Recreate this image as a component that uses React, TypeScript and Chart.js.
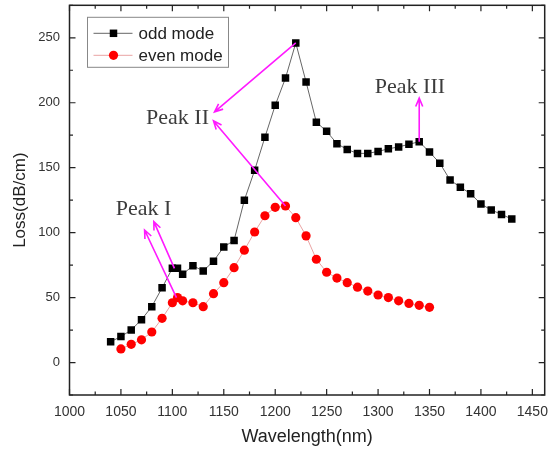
import React, { useEffect, useRef } from "react";
import { Chart, registerables } from "chart.js";
Chart.register(...registerables);

// ---- data ----
const oddX = [1040, 1050, 1060, 1070, 1080, 1090, 1100, 1105, 1110, 1120, 1130, 1140, 1150, 1160, 1170, 1180, 1190, 1200, 1210, 1220, 1230, 1240, 1250, 1260, 1270, 1280, 1290, 1300, 1310, 1320, 1330, 1340, 1350, 1360, 1370, 1380, 1390, 1400, 1410, 1420, 1430];
const oddY = [16, 20, 25, 33, 43, 57.5, 72.5, 72.5, 68, 74.5, 70.5, 78, 89, 94, 125, 148, 173.5, 198, 219, 246, 216, 185, 178, 168.5, 164, 161, 161, 162.5, 164.5, 166, 168, 170, 162, 153.5, 140.5, 135, 130, 122, 117.5, 114, 110.5];
const evenX = [1050, 1060, 1070, 1080, 1090, 1100, 1105, 1110, 1120, 1130, 1140, 1150, 1160, 1170, 1180, 1190, 1200, 1210, 1220, 1230, 1240, 1250, 1260, 1270, 1280, 1290, 1300, 1310, 1320, 1330, 1340, 1350];
const evenY = [10.5, 14, 17.5, 23.5, 34, 46, 50, 47.5, 46, 43, 53, 61.5, 73, 86.5, 100.5, 113, 119.5, 120.5, 111.5, 97.5, 79.5, 69.5, 65, 61.5, 58, 55, 52, 50, 47.5, 45.5, 44, 42.5];
const seriesNames = ["odd mode", "even mode"];
const xTicks = [1000, 1050, 1100, 1150, 1200, 1250, 1300, 1350, 1400, 1450];
const yTicks = [0, 50, 100, 150, 200, 250];
const xRange = [1000, 1462];
const yRange = [-25, 275];

// annotations (data coordinates)
const peakLabels = ["Peak I", "Peak II", "Peak III"];
const peakLabelX = [1072, 1105, 1331];
const peakLabelY = [118, 188, 212];
const arrowTailX = [1104, 1102, 1220, 1210, 1340];
const arrowTailY = [50, 72.5, 246, 120.5, 170];
const arrowTipX = [1073, 1082, 1141, 1140, 1340];
const arrowTipY = [102, 108.5, 193, 186, 203.5];

const SANS = "'Liberation Sans', Arial, sans-serif";
const SERIF = "'Liberation Serif', 'Times New Roman', serif";

const noPad = (s: any) => {
  s.paddingLeft = 0;
  s.paddingRight = 0;
  s.paddingTop = 0;
  s.paddingBottom = 0;
};

export default function App() {
  const ref = useRef<HTMLCanvasElement>(null);
  useEffect(() => {
    document.body.style.margin = "0";
    const framePlugin = {
      id: "framePlugin",
      afterDraw(chart: any) {
        const ctx = chart.ctx;
        const { left, right, top, bottom } = chart.chartArea;
        const xs = chart.scales.x;
        const ys = chart.scales.y;
        ctx.save();
        // frame
        ctx.strokeStyle = "#222";
        ctx.lineWidth = 1.5;
        ctx.strokeRect(left, top, right - left, bottom - top);
        ctx.lineWidth = 1.2;
        const tick = (v: number, len: number, isX: boolean) => {
          if (isX) {
            const p = xs.getPixelForValue(v);
            if (p < left - 0.5 || p > right + 0.5) return;
            ctx.beginPath();
            ctx.moveTo(p, bottom); ctx.lineTo(p, bottom - len);
            ctx.moveTo(p, top); ctx.lineTo(p, top + len);
            ctx.stroke();
          } else {
            const p = ys.getPixelForValue(v);
            if (p < top - 0.5 || p > bottom + 0.5) return;
            ctx.beginPath();
            ctx.moveTo(left, p); ctx.lineTo(left + len, p);
            ctx.moveTo(right, p); ctx.lineTo(right - len, p);
            ctx.stroke();
          }
        };
        const xStep = xTicks[1] - xTicks[0];
        xTicks.forEach((v) => { tick(v, 6, true); tick(v + xStep / 2, 3.5, true); });
        const yStep = yTicks[1] - yTicks[0];
        tick(yTicks[0] - yStep / 2, 3.5, false);
        yTicks.forEach((v) => { tick(v, 6, false); tick(v + yStep / 2, 3.5, false); });

        // arrows
        ctx.strokeStyle = "#ff1aff";
        ctx.lineWidth = 1.6;
        arrowTailX.forEach((_, i) => {
          const x1 = xs.getPixelForValue(arrowTailX[i]);
          const y1 = ys.getPixelForValue(arrowTailY[i]);
          const x2 = xs.getPixelForValue(arrowTipX[i]);
          const y2 = ys.getPixelForValue(arrowTipY[i]);
          const a = Math.atan2(y2 - y1, x2 - x1);
          const h = 9;
          ctx.beginPath();
          ctx.moveTo(x1, y1); ctx.lineTo(x2, y2);
          ctx.moveTo(x2 - h * Math.cos(a - 0.4), y2 - h * Math.sin(a - 0.4));
          ctx.lineTo(x2, y2);
          ctx.lineTo(x2 - h * Math.cos(a + 0.4), y2 - h * Math.sin(a + 0.4));
          ctx.stroke();
        });

        // peak labels
        ctx.fillStyle = "#3c3c3c";
        ctx.font = `22px ${SERIF}`;
        ctx.textAlign = "center";
        ctx.textBaseline = "middle";
        peakLabels.forEach((t, i) => {
          ctx.fillText(t, xs.getPixelForValue(peakLabelX[i]), ys.getPixelForValue(peakLabelY[i]));
        });

        // legend box
        const bx = left + 18, by = top + 12, bw = 141, bh = 50;
        ctx.fillStyle = "#fff";
        ctx.fillRect(bx, by, bw, bh);
        ctx.strokeStyle = "#888";
        ctx.lineWidth = 1;
        ctx.strokeRect(bx, by, bw, bh);
        chart.data.datasets.forEach((ds: any, i: number) => {
          const cy = by + 16 + i * 22;
          ctx.strokeStyle = ds.borderColor;
          ctx.lineWidth = 1;
          ctx.beginPath();
          ctx.moveTo(bx + 6, cy); ctx.lineTo(bx + 45, cy);
          ctx.stroke();
          ctx.fillStyle = ds.pointBackgroundColor;
          ctx.beginPath();
          if (ds.pointStyle === "rect") {
            ctx.rect(bx + 26 - 3.75, cy - 3.75, 7.5, 7.5);
          } else {
            ctx.arc(bx + 26, cy, 4.6, 0, Math.PI * 2);
          }
          ctx.fill();
          ctx.fillStyle = "#222";
          ctx.font = `17px ${SANS}`;
          ctx.textAlign = "left";
          ctx.textBaseline = "middle";
          ctx.fillText(ds.label, bx + 51, cy + 1);
        });
        ctx.restore();
      },
    };

    const chart = new Chart(ref.current!, {
      type: "scatter",
      data: {
        datasets: [
          {
            label: seriesNames[0],
            data: oddX.map((x, i) => ({ x, y: oddY[i] })),
            showLine: true,
            borderColor: "#666",
            borderWidth: 1,
            pointStyle: "rect",
            pointRadius: 5.3,
            pointBackgroundColor: "#000",
            pointBorderColor: "#000",
            pointBorderWidth: 0,
          },
          {
            label: seriesNames[1],
            data: evenX.map((x, i) => ({ x, y: evenY[i] })),
            showLine: true,
            borderColor: "#e9a3a3",
            borderWidth: 1,
            pointStyle: "circle",
            pointRadius: 4.6,
            pointBackgroundColor: "#ff0000",
            pointBorderColor: "#ff0000",
            pointBorderWidth: 0,
          },
        ],
      },
      options: {
        responsive: false,
        animation: false,
        layout: { padding: { top: 5, right: 3.3, left: 0, bottom: 0 } },
        plugins: { legend: { display: false }, tooltip: { enabled: false } },
        scales: {
          x: {
            type: "linear",
            min: xRange[0],
            max: xRange[1],
            grid: { display: false, drawTicks: false },
            border: { display: false },
            afterBuildTicks: (s: any) => { s.ticks = xTicks.map((v) => ({ value: v })); },
            afterFit: (s: any) => { s.height = 58; noPad(s); },
            ticks: { font: { family: SANS, size: 14 }, color: "#333", padding: 9, maxRotation: 0, autoSkip: false, callback: (v: any) => String(v) },
            title: { display: true, text: "Wavelength(nm)", font: { family: SANS, size: 18 }, color: "#222", padding: { top: 0, bottom: 5 } },
          },
          y: {
            type: "linear",
            min: yRange[0],
            max: yRange[1],
            grid: { display: false, drawTicks: false },
            border: { display: false },
            afterBuildTicks: (s: any) => { s.ticks = yTicks.map((v) => ({ value: v })); },
            afterFit: (s: any) => { s.width = 69.5; noPad(s); },
            ticks: { font: { family: SANS, size: 13 }, color: "#333", padding: 9.5, callback: (v: any) => String(v) },
            title: { display: true, text: "Loss(dB/cm)", font: { family: SANS, size: 17 }, color: "#222", padding: { top: 10, bottom: 0 } },
          },
        },
      },
      plugins: [framePlugin],
    });
    return () => chart.destroy();
  }, []);
  return (
    <div style={{ width: 550, height: 453 }}>
      <canvas ref={ref} width={550} height={453} style={{ display: "block" }} />
    </div>
  );
}
